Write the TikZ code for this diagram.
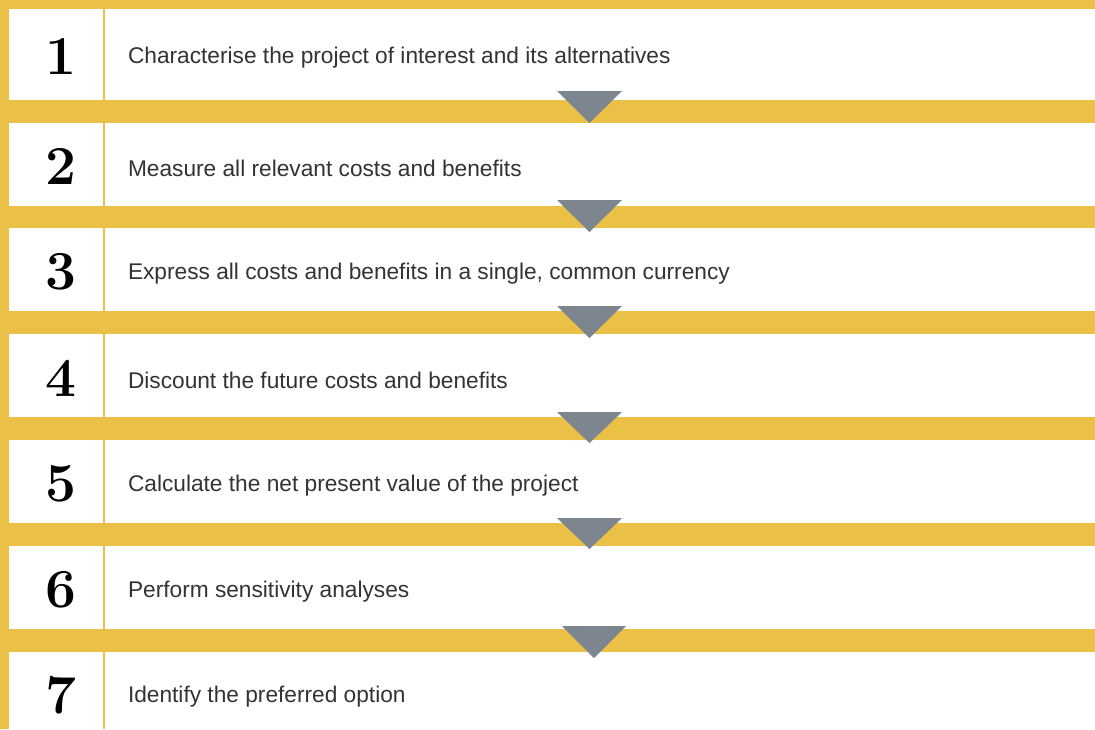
\documentclass[tikz,border=0pt]{standalone}
\usepackage{fontspec}
\setsansfont{Liberation Sans}
\begin{document}
\begin{tikzpicture}[x=1pt,y=-1pt,
  every node/.style={inner sep=0pt,outer sep=0pt},
  numtext/.style={font=\fontsize{55}{55}\selectfont\bfseries, text=black},
  steptext/.style={font=\sffamily\fontsize{22.7}{26}\selectfont, text=textgray, anchor=west},
  pointer/.style={fill=arrowgray}]
\definecolor{bandyellow}{HTML}{EBC047}
\definecolor{arrowgray}{HTML}{7D868E}
\definecolor{textgray}{HTML}{333333}
\useasboundingbox (0,0) rectangle (1095,729);
\fill[bandyellow] (0,0) rectangle (1095,729);
% rows: top, bottom
\foreach \t/\b in {9/100,123/206,228/311,334/417,440/523,546/629,652/729}{
  \fill[white] (9,\t) rectangle (103,\b);
  \fill[white] (105,\t) rectangle (1095,\b);
}
\node[numtext] (n1) at (61,56) {1};
\node[numtext] (n2) at (61,166) {2};
\node[numtext] (n3) at (61,272) {3};
\node[numtext] (n4) at (61,378) {4};
\node[numtext] (n5) at (61,484) {5};
\node[numtext] (n6) at (61,590) {6};
\node[numtext] (n7) at (61,695) {7};
\node[steptext] (t1) at (128,58) {Characterise the project of interest and its alternatives};
\node[steptext] (t2) at (128,168) {Measure all relevant costs and benefits};
\node[steptext] (t3) at (128,274) {Express all costs and benefits in a single, common currency};
\node[steptext] (t4) at (128,380) {Discount the future costs and benefits};
\node[steptext] (t5) at (128,486) {Calculate the net present value of the project};
\node[steptext] (t6) at (128,592) {Perform sensitivity analyses};
\node[steptext] (t7) at (128,697) {Identify the preferred option};
% pointers
\foreach \t/\a in {91/123,200/232,306/338,412/443,518/549}{
  \fill[pointer] (557,\t) -- (622,\t) -- (589.5,\a) -- cycle;
}
\fill[pointer] (562,626) -- (626,626) -- (594,658) -- cycle;
\end{tikzpicture}
\end{document}
